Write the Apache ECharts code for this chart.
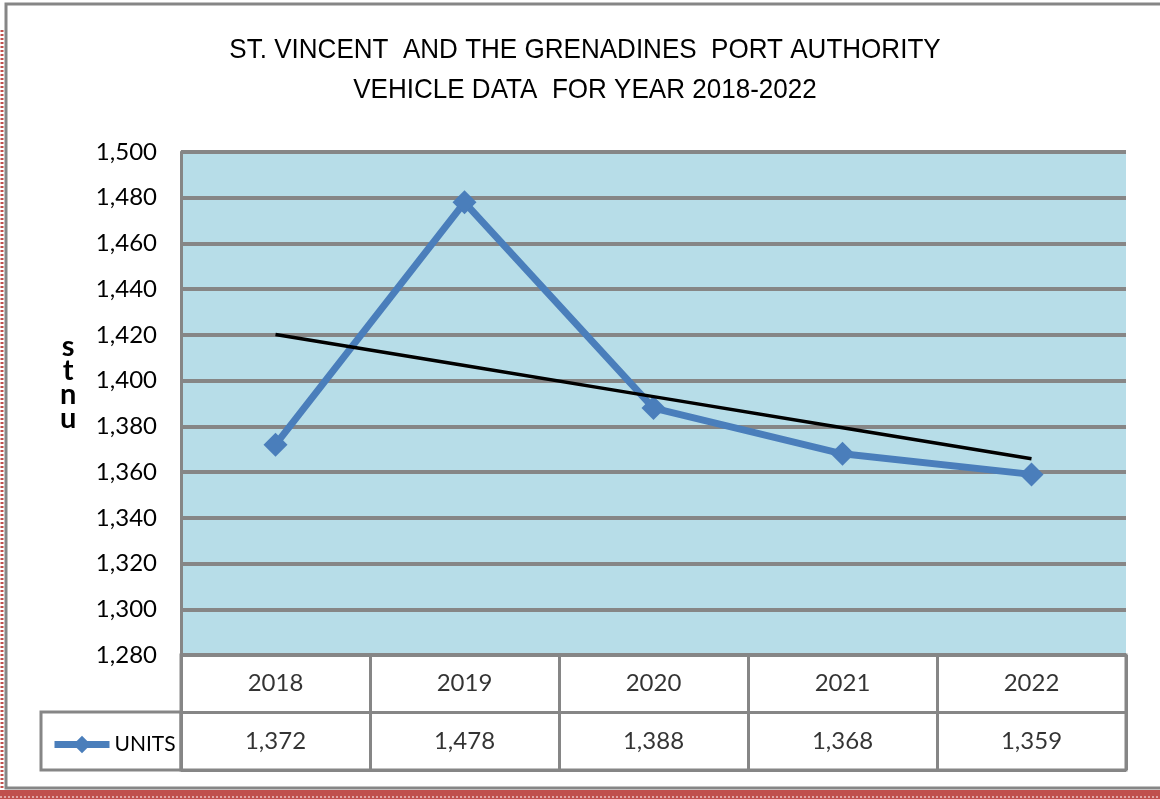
<!DOCTYPE html>
<html>
<head>
<meta charset="utf-8">
<script src="https://cdn.jsdelivr.net/npm/echarts@6/dist/echarts.min.js"></script>
<style>
  html, body { margin: 0; padding: 0; background: #fff; }
  #main { width: 1160px; height: 799px; }
</style>
</head>
<body>
<div id="main"></div>
<script>
// 数据
var years = ['2018', '2019', '2020', '2021', '2022'];
var units = [1372, 1478, 1388, 1368, 1359];
var yTicks = { min: 1280, max: 1500, step: 20 };

// 线性趋势线（最小二乘）
var n = units.length;
var mx = (n + 1) / 2;
var my = units.reduce(function (a, b) { return a + b; }, 0) / n;
var sxy = 0, sxx = 0;
units.forEach(function (v, i) {
    sxy += (i + 1 - mx) * (v - my);
    sxx += (i + 1 - mx) * (i + 1 - mx);
});
var slope = sxy / sxx;
var trend = units.map(function (v, i) { return my + slope * (i + 1 - mx); });

function fmt(v) { return v.toLocaleString('en-US'); }

var gray = '#868686';
var blue = '#4a7ebb';
var font = 'Lato, "Open Sans", sans-serif';

var chart = echarts.init(document.getElementById('main'));

var tableData = [];
years.forEach(function (y, i) {
    tableData.push({ name: y, value: [i, 'year'] });
    tableData.push({ name: fmt(units[i]), value: [i, 'value'] });
});

var option = {
    animation: false,
    legend: {
        data: ['UNITS'],
        left: 46,
        top: 729,
        itemWidth: 55,
        itemHeight: 22,
        itemStyle: { color: blue },
        lineStyle: { color: blue, width: 7 },
        textStyle: { fontFamily: font, fontSize: 21, color: '#000' }
    },
    grid: [
        { left: 181, top: 152, width: 945, height: 503, show: true, backgroundColor: '#b7dde8', borderWidth: 0 },
        { left: 181, top: 655, width: 945, height: 115, show: true, borderColor: gray, borderWidth: 3, backgroundColor: '#fff' }
    ],
    xAxis: [
        {
            type: 'category', gridIndex: 0, data: years, boundaryGap: true,
            axisLine: { show: false }, axisTick: { show: false }, axisLabel: { show: false }
        },
        {
            type: 'category', gridIndex: 1, data: years, boundaryGap: true,
            axisLine: { show: false }, axisTick: { show: false }, axisLabel: { show: false },
            splitLine: { show: true, lineStyle: { color: gray, width: 3 } }
        }
    ],
    yAxis: [
        {
            type: 'value', gridIndex: 0, min: yTicks.min, max: yTicks.max, interval: yTicks.step,
            axisLine: { show: true, lineStyle: { color: gray, width: 3 } },
            axisTick: { show: false },
            axisLabel: {
                margin: 24, color: '#000', fontSize: 24, fontFamily: font,
                formatter: function (v) { return fmt(v); }
            },
            splitLine: { lineStyle: { color: gray, width: 4 } }
        },
        {
            type: 'category', gridIndex: 1, data: ['value', 'year'],
            axisLine: { show: false }, axisTick: { show: false }, axisLabel: { show: false },
            splitLine: { show: true, lineStyle: { color: gray, width: 3 } }
        }
    ],
    series: [
        {
            name: 'UNITS',
            type: 'line',
            data: units,
            symbol: 'diamond',
            symbolSize: 24,
            lineStyle: { color: blue, width: 7 },
            itemStyle: { color: blue },
            z: 3
        },
        {
            name: 'trend',
            type: 'line',
            data: trend,
            symbol: 'none',
            lineStyle: { color: '#000', width: 3.5 },
            z: 4
        },
        {
            name: 'table',
            type: 'scatter',
            xAxisIndex: 1,
            yAxisIndex: 1,
            data: tableData,
            symbolSize: 1,
            itemStyle: { color: 'rgba(0,0,0,0)' },
            label: {
                show: true, position: 'inside', formatter: '{b}',
                color: '#000', fontSize: 24, fontFamily: font
            }
        }
    ],
    graphic: [
        // 标题（压缩字形）
        {
            type: 'text', x: 585, y: 70, scaleX: 0.93, z: 10,
            style: {
                text: 'ST. VINCENT  AND THE GRENADINES  PORT AUTHORITY\nVEHICLE DATA  FOR YEAR 2018-2022',
                fill: '#000', fontSize: 28, lineHeight: 40,
                fontFamily: '"Liberation Sans", Arial, sans-serif',
                textAlign: 'center', textVerticalAlign: 'middle'
            }
        },
        // 外框
        { type: 'rect', shape: { x: 6, y: 4, width: 1170, height: 784 }, style: { fill: null, stroke: gray, lineWidth: 3 }, z: 10 },
        { type: 'rect', shape: { x: 0, y: 790, width: 1160, height: 9 }, style: { fill: '#c0504d' }, z: 10 },
        { type: 'line', shape: { x1: 0, y1: 797, x2: 1160, y2: 797 }, style: { stroke: '#fff', lineWidth: 1, lineDash: [2, 2] }, z: 11 },
        { type: 'line', shape: { x1: 2, y1: 30, x2: 2, y2: 790 }, style: { stroke: '#c0504d', lineWidth: 3, lineDash: [2, 2] }, z: 10 },
        // 图例单元格
        { type: 'rect', shape: { x: 41, y: 712, width: 140, height: 58 }, style: { fill: null, stroke: gray, lineWidth: 3 }, z: 10 },
        // 纵轴标题
        {
            type: 'text', left: 60, top: 332, z: 10,
            style: {
                text: 's\nt\nn\nu', fill: '#000', fontSize: 29, fontWeight: 'bold',
                fontFamily: font, lineHeight: 24, textAlign: 'center'
            }
        }
    ]
};

chart.setOption(option);
</script>
</body>
</html>
